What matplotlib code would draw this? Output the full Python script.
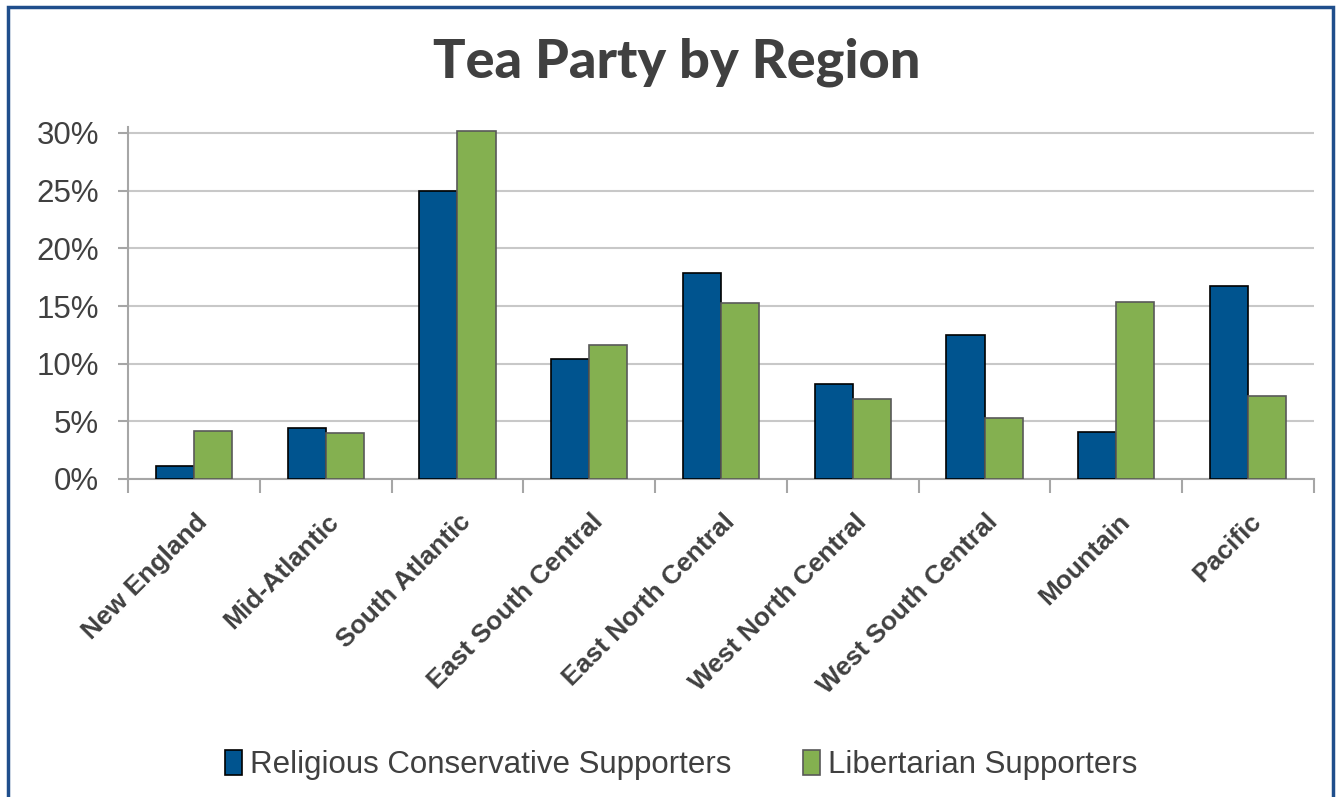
import matplotlib
matplotlib.use("Agg")
import matplotlib.pyplot as plt
from matplotlib.patches import Rectangle
import numpy as np

regions = ["New England", "Mid-Atlantic", "South Atlantic", "East South Central",
           "East North Central", "West North Central", "West South Central",
           "Mountain", "Pacific"]
religious = [1.1, 4.4, 25.0, 10.4, 17.9, 8.2, 12.5, 4.1, 16.7]
libertarian = [4.2, 4.0, 30.2, 11.6, 15.3, 6.9, 5.3, 15.35, 7.2]
series_names = ["Religious Conservative Supporters", "Libertarian Supporters"]
yticks = [0, 5, 10, 15, 20, 25, 30]

BLUE = "#00548F"
GREEN = "#84B050"
TEXT = "#404040"

W, H = 1344, 797
fig = plt.figure(figsize=(W / 100, H / 100), dpi=100)
fig.patch.set_facecolor("white")

# outer frame
fig.patches.append(Rectangle((8 / W, -0.05), (1333 - 8) / W, 1.05 - 7 / H,
                             transform=fig.transFigure, fill=False,
                             edgecolor="#1F4E8C", linewidth=2.5))

ax = fig.add_axes([128 / W, 1 - 479 / H, (1314 - 128) / W, (479 - 133) / H * 31.0 / 30.0])
x = np.arange(len(regions))
bw = 0.289
ax.bar(x - bw / 2, religious, bw, color=BLUE, edgecolor="black", linewidth=1.2,
       label=series_names[0], zorder=3)
ax.bar(x + bw / 2, libertarian, bw, color=GREEN, edgecolor="#595959", linewidth=1.2,
       label=series_names[1], zorder=3)

ax.set_xlim(-0.5, len(regions) - 0.5)
ax.set_ylim(0, 31)
ax.set_yticks(yticks)
ax.set_yticklabels([f"{v}%" for v in yticks], fontsize=22.5, color=TEXT,
                   family="Liberation Sans")
ax.yaxis.grid(True, color="#C8C8C8", linewidth=1.5, zorder=0)
ax.set_axisbelow(True)

for s in ["top", "right"]:
    ax.spines[s].set_visible(False)
for s in ["left", "bottom"]:
    ax.spines[s].set_color("#A6A6A6")
    ax.spines[s].set_linewidth(1.5)
ax.spines["left"].set_bounds(0, 30.5)

ax.tick_params(axis="y", length=7, width=1.5, color="#A6A6A6", pad=14)
ax.set_xticks(np.arange(len(regions) + 1) - 0.5)
ax.set_xticklabels([])
ax.tick_params(axis="x", length=10, width=1.5, color="#A6A6A6", direction="out")

for i, name in enumerate(regions):
    ax.annotate(name, xy=(i, 0), xycoords="data", xytext=(1, -22),
                textcoords="offset points", rotation=45, rotation_mode="anchor",
                ha="right", va="top", fontsize=19, fontweight="bold", color=TEXT,
                family="Liberation Sans")

fig.text(677 / W, 1 - 62 / H, "Tea Party by Region", ha="center", va="center",
         fontsize=39, fontweight="black", color=TEXT, family="Lato")

handles, labels = ax.get_legend_handles_labels()
leg = fig.legend(handles, labels, loc="center", bbox_to_anchor=(681 / W, 1 - 765 / H),
                 ncol=2, frameon=False, handlelength=0.55, handleheight=0.85,
                 handletextpad=0.25, columnspacing=2.3,
                 prop={"family": "Liberation Sans", "size": 22.5})
for t in leg.get_texts():
    t.set_color(TEXT)

fig.savefig("out.png", dpi=100)
